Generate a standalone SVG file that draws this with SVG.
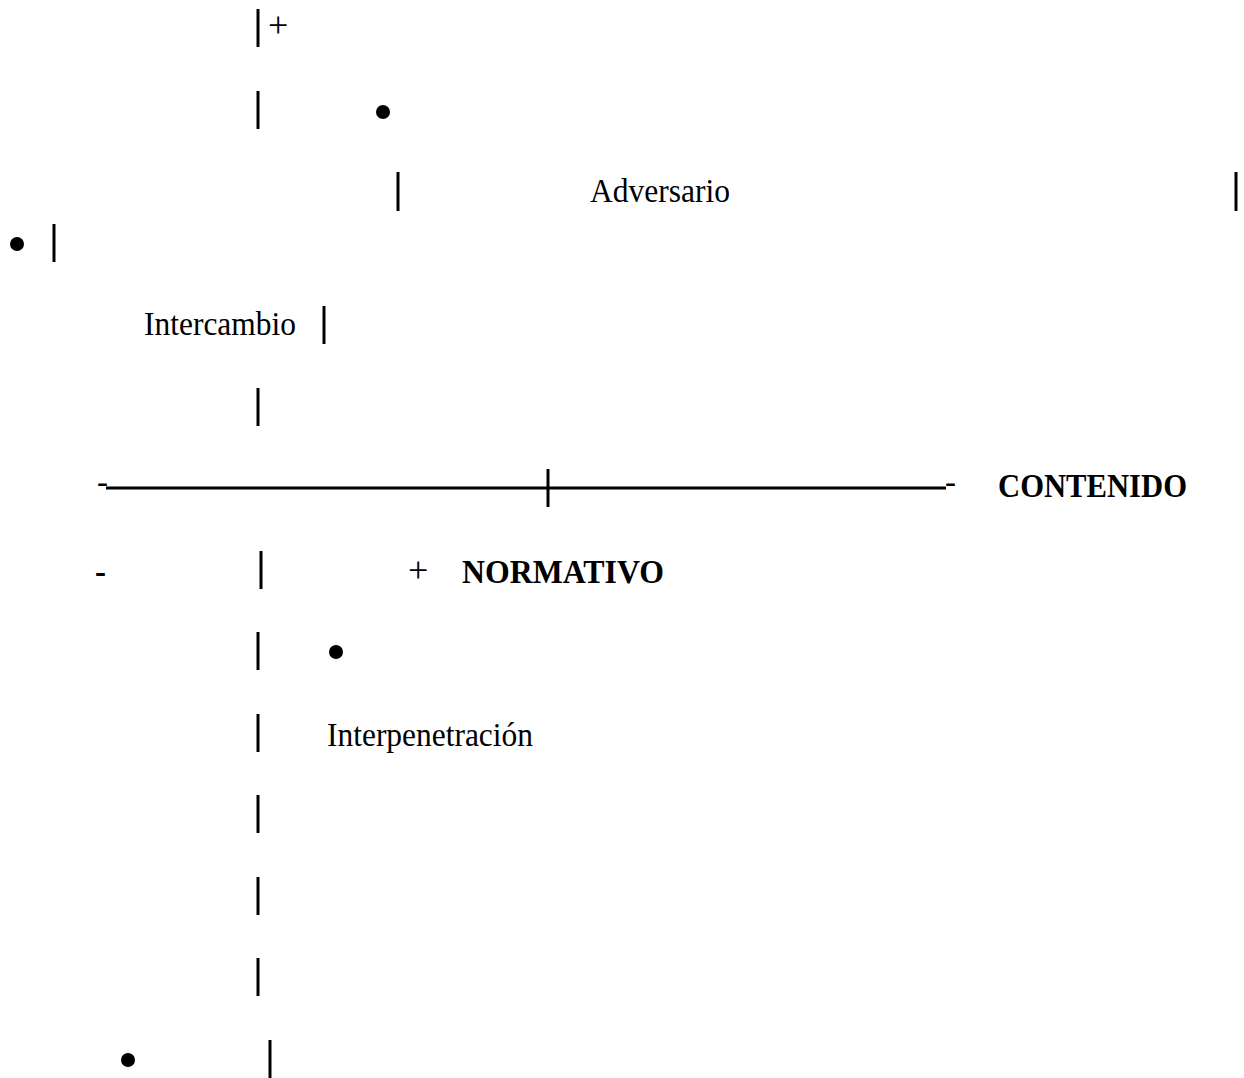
<svg xmlns="http://www.w3.org/2000/svg" width="1244" height="1078" viewBox="0 0 1244 1078">
<style>
  .t { font-family: "Liberation Serif", "Times New Roman", serif; font-size: 33px; fill: #000; }
  .s { font-size: 36px; }
  .b { font-weight: bold; }
  .bar { stroke: #000; stroke-width: 3; }
  .axis { stroke: #000; stroke-width: 3; }
  .dot { fill: #000; }
</style>
<rect width="1244" height="1078" fill="#fff"/>
<g id="connectors">
  <line class="bar" x1="258" y1="9" x2="258" y2="47"/>
  <line class="bar" x1="258" y1="91" x2="258" y2="129"/>
  <line class="bar" x1="398" y1="172" x2="398" y2="211"/>
  <line class="bar" x1="1236" y1="172" x2="1236" y2="211"/>
  <line class="bar" x1="54" y1="224" x2="54" y2="262"/>
  <line class="bar" x1="324" y1="306" x2="324" y2="344"/>
  <line class="bar" x1="258" y1="388" x2="258" y2="426"/>
  <line class="axis" x1="106" y1="488" x2="946" y2="488"/>
  <line class="bar" x1="548" y1="469" x2="548" y2="507"/>
  <line class="bar" x1="261" y1="551" x2="261" y2="589"/>
  <line class="bar" x1="258" y1="632" x2="258" y2="670"/>
  <line class="bar" x1="258" y1="714" x2="258" y2="752"/>
  <line class="bar" x1="258" y1="795" x2="258" y2="833"/>
  <line class="bar" x1="258" y1="877" x2="258" y2="915"/>
  <line class="bar" x1="258" y1="958" x2="258" y2="996"/>
  <line class="bar" x1="270" y1="1040" x2="270" y2="1078"/>
</g>
<g id="node-plus-top"><text class="t s" x="268" y="37">+</text></g>
<g id="node-dot-1"><circle class="dot" cx="383" cy="112" r="7"/></g>
<g id="node-adversario"><text class="t" x="590" y="202" textLength="140" lengthAdjust="spacingAndGlyphs">Adversario</text></g>
<g id="node-dot-2"><circle class="dot" cx="17" cy="244" r="7"/></g>
<g id="node-intercambio"><text class="t" x="144" y="335" textLength="152" lengthAdjust="spacingAndGlyphs">Intercambio</text></g>
<g id="node-minus-left"><text class="t" x="97" y="493">-</text></g>
<g id="node-minus-right"><text class="t" x="945" y="493">-</text></g>
<g id="node-contenido"><text class="t b" x="998" y="497" textLength="189" lengthAdjust="spacingAndGlyphs">CONTENIDO</text></g>
<g id="node-minus-bottom"><text class="t b" x="95" y="583">-</text></g>
<g id="node-plus-normativo"><text class="t s" x="408" y="582">+</text></g>
<g id="node-normativo"><text class="t b" x="462" y="583" textLength="202" lengthAdjust="spacingAndGlyphs">NORMATIVO</text></g>
<g id="node-dot-3"><circle class="dot" cx="336" cy="652" r="7"/></g>
<g id="node-interpenetracion"><text class="t" x="327" y="746" textLength="206" lengthAdjust="spacingAndGlyphs">Interpenetración</text></g>
<g id="node-dot-4"><circle class="dot" cx="128" cy="1060" r="7"/></g>
</svg>
